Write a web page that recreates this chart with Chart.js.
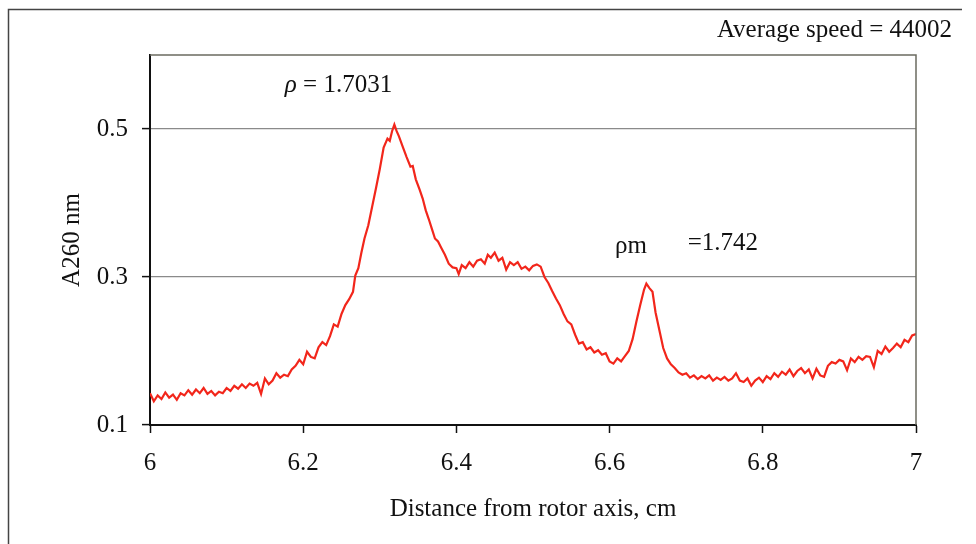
<!DOCTYPE html>
<html>
<head>
<meta charset="utf-8">
<script src="https://cdn.jsdelivr.net/npm/chart.js@4/dist/chart.umd.min.js"></script>
<style>
  html, body { margin: 0; padding: 0; background: #fff; }
  canvas { display: block; }
</style>
</head>
<body>
<canvas id="chart" width="976" height="544"></canvas>
<script>
// distance from rotor axis (cm)
const distance = [
  6.000, 6.005, 6.010, 6.015, 6.020, 6.025, 6.030, 6.035, 6.040, 6.045,
  6.050, 6.055, 6.060, 6.065, 6.070, 6.075, 6.080, 6.085, 6.090, 6.095,
  6.100, 6.105, 6.110, 6.115, 6.120, 6.125, 6.130, 6.135, 6.140, 6.145,
  6.150, 6.155, 6.160, 6.165, 6.170, 6.175, 6.180, 6.185, 6.190, 6.195,
  6.200, 6.205, 6.210, 6.215, 6.220, 6.225, 6.230, 6.235, 6.240, 6.245,
  6.250, 6.255, 6.260, 6.265, 6.268, 6.272, 6.276, 6.280, 6.285, 6.290,
  6.295, 6.300, 6.305, 6.310, 6.313, 6.316, 6.319, 6.322, 6.325, 6.330,
  6.335, 6.340, 6.343, 6.347, 6.352, 6.356, 6.360, 6.364, 6.368, 6.372,
  6.376, 6.380, 6.385, 6.390, 6.395, 6.400, 6.403, 6.407, 6.412, 6.417,
  6.422, 6.427, 6.432, 6.437, 6.441, 6.445, 6.450, 6.455, 6.460, 6.465,
  6.470, 6.475, 6.480, 6.485, 6.490, 6.495, 6.500, 6.505, 6.510, 6.515,
  6.520, 6.525, 6.530, 6.535, 6.540, 6.545, 6.550, 6.555, 6.560, 6.565,
  6.570, 6.575, 6.580, 6.585, 6.590, 6.595, 6.600, 6.605, 6.610, 6.615,
  6.620, 6.625, 6.630, 6.635, 6.640, 6.645, 6.648, 6.652, 6.656, 6.660,
  6.665, 6.670, 6.675, 6.680, 6.685, 6.690, 6.695, 6.700, 6.705, 6.710,
  6.715, 6.720, 6.725, 6.730, 6.735, 6.740, 6.745, 6.750, 6.755, 6.760,
  6.765, 6.770, 6.775, 6.780, 6.785, 6.790, 6.795, 6.800, 6.805, 6.810,
  6.815, 6.820, 6.825, 6.830, 6.835, 6.840, 6.845, 6.850, 6.855, 6.860,
  6.865, 6.870, 6.875, 6.880, 6.885, 6.890, 6.895, 6.900, 6.905, 6.910,
  6.915, 6.920, 6.925, 6.930, 6.935, 6.940, 6.945, 6.950, 6.955, 6.960,
  6.965, 6.970, 6.975, 6.980, 6.985, 6.990, 6.995, 7.000
];

// A260 absorbance
const absorbance = [
  0.143, 0.132, 0.140, 0.135, 0.144, 0.137, 0.141, 0.134, 0.143, 0.140,
  0.147, 0.141, 0.148, 0.143, 0.150, 0.142, 0.146, 0.140, 0.145, 0.143,
  0.150, 0.146, 0.153, 0.149, 0.155, 0.150, 0.156, 0.153, 0.157, 0.142,
  0.163, 0.155, 0.160, 0.170, 0.164, 0.168, 0.166, 0.175, 0.180, 0.188,
  0.182, 0.199, 0.192, 0.190, 0.205, 0.212, 0.208, 0.220, 0.236, 0.233,
  0.250, 0.262, 0.270, 0.280, 0.302, 0.312, 0.333, 0.352, 0.370, 0.395,
  0.420, 0.446, 0.475, 0.487, 0.484, 0.497, 0.506, 0.497, 0.490, 0.476,
  0.462, 0.449, 0.450, 0.432, 0.418, 0.406, 0.390, 0.378, 0.365, 0.352,
  0.348, 0.340, 0.330, 0.318, 0.313, 0.312, 0.304, 0.316, 0.312, 0.320,
  0.314, 0.322, 0.324, 0.318, 0.330, 0.326, 0.333, 0.322, 0.326, 0.310,
  0.320, 0.316, 0.320, 0.311, 0.314, 0.309, 0.315, 0.317, 0.314, 0.300,
  0.292, 0.281, 0.271, 0.262, 0.250, 0.240, 0.236, 0.222, 0.210, 0.212,
  0.202, 0.205, 0.198, 0.201, 0.195, 0.197, 0.186, 0.183, 0.190, 0.186,
  0.193, 0.200, 0.216, 0.240, 0.262, 0.283, 0.291, 0.285, 0.280, 0.252,
  0.228, 0.204, 0.190, 0.182, 0.177, 0.171, 0.168, 0.170, 0.164, 0.167,
  0.162, 0.166, 0.163, 0.167, 0.160, 0.164, 0.161, 0.165, 0.160, 0.163,
  0.170, 0.160, 0.158, 0.163, 0.153, 0.160, 0.164, 0.158, 0.166, 0.162,
  0.170, 0.165, 0.172, 0.168, 0.175, 0.166, 0.173, 0.177, 0.170, 0.175,
  0.163, 0.176, 0.167, 0.165, 0.180, 0.185, 0.183, 0.188, 0.186, 0.174,
  0.190, 0.185, 0.192, 0.188, 0.193, 0.192, 0.178, 0.200, 0.196, 0.206,
  0.199, 0.204, 0.210, 0.205, 0.215, 0.212, 0.221, 0.223
];

const yTicks = [0.1, 0.3, 0.5];
const xTicks = [6, 6.2, 6.4, 6.6, 6.8, 7];

const FONT = "'Liberation Serif', 'Times New Roman', serif";
const SIZE = 25;

// frame, plot border and text notes
const decorations = {
  id: "decorations",
  beforeDraw(chart) {
    const ctx = chart.ctx;
    ctx.save();
    ctx.fillStyle = "#fff";
    ctx.fillRect(0, 0, chart.width, chart.height);
    ctx.restore();
  },
  afterDraw(chart) {
    const { ctx, chartArea: a, scales } = chart;
    const x = scales.x, y = scales.y;
    ctx.save();

    // outer frame (top and left edges visible)
    ctx.strokeStyle = "#444";
    ctx.lineWidth = 1.5;
    ctx.beginPath();
    ctx.moveTo(8.5, 544);
    ctx.lineTo(8.5, 9.5);
    ctx.lineTo(962, 9.5);
    ctx.stroke();

    // plot area top & right border
    ctx.strokeStyle = "#6b6b60";
    ctx.lineWidth = 1.5;
    ctx.beginPath();
    ctx.moveTo(a.left, a.top);
    ctx.lineTo(a.right, a.top);
    ctx.lineTo(a.right, a.bottom);
    ctx.stroke();

    ctx.fillStyle = "#111";
    ctx.textBaseline = "middle";
    ctx.textAlign = "left";

    // rho label of main band
    let px = x.getPixelForValue(6.176);
    let py = y.getPixelForValue(0.559);
    ctx.font = "italic " + SIZE + "px " + FONT;
    ctx.fillText("\u03c1", px, py);
    let w = ctx.measureText("\u03c1").width;
    ctx.font = SIZE + "px " + FONT;
    ctx.fillText(" = 1.7031", px + w, py);

    // rho m label of second band
    ctx.fillText("\u03c1m", x.getPixelForValue(6.607), y.getPixelForValue(0.341));
    ctx.fillText("=1.742", x.getPixelForValue(6.702), y.getPixelForValue(0.345));

    // speed note, top right
    ctx.textAlign = "right";
    ctx.fillText("Average speed = 44002", a.right + 36, 30);

    ctx.restore();
  }
};

new Chart(document.getElementById("chart"), {
  type: "line",
  data: {
    datasets: [{
      data: distance.map((d, i) => ({ x: d, y: absorbance[i] })),
      borderColor: "#f2261b",
      borderWidth: 2.2,
      pointRadius: 0,
      tension: 0,
      fill: false
    }]
  },
  options: {
    responsive: false,
    animation: false,
    events: [],
    layout: { padding: { left: 0, top: 55, right: 60, bottom: 0 } },
    plugins: {
      legend: { display: false },
      tooltip: { enabled: false }
    },
    scales: {
      x: {
        type: "linear",
        min: 6,
        max: 7,
        afterFit(s) { s.height = 119; },
        afterBuildTicks(s) { s.ticks = xTicks.map(v => ({ value: v })); },
        ticks: {
          color: "#111",
          font: { family: FONT, size: SIZE },
          padding: 15,
          maxRotation: 0,
          autoSkip: false,
          callback: v => String(Number(v.toFixed(1)))
        },
        grid: {
          drawOnChartArea: false,
          drawTicks: true,
          tickLength: 8,
          tickColor: "#111",
          tickWidth: 1.5
        },
        border: { color: "#111", width: 2 },
        title: {
          display: true,
          text: "Distance from rotor axis, cm",
          color: "#111",
          font: { family: FONT, size: SIZE },
          padding: { top: 0, bottom: 20 }
        }
      },
      y: {
        type: "linear",
        min: 0.1,
        max: 0.6,
        afterFit(s) { s.width = 150; },
        afterBuildTicks(s) { s.ticks = yTicks.map(v => ({ value: v })); },
        ticks: {
          color: "#111",
          font: { family: FONT, size: SIZE },
          padding: 14,
          callback: v => v.toFixed(1)
        },
        grid: {
          color: "#8a8a8a",
          lineWidth: 1.2,
          drawTicks: true,
          tickLength: 8,
          tickColor: "#111",
          tickWidth: 1.5
        },
        border: { color: "#111", width: 2 },
        title: {
          display: true,
          text: "A260 nm",
          color: "#111",
          font: { family: FONT, size: SIZE },
          padding: { top: 57, bottom: 0 }
        }
      }
    }
  },
  plugins: [decorations]
});
</script>
</body>
</html>
